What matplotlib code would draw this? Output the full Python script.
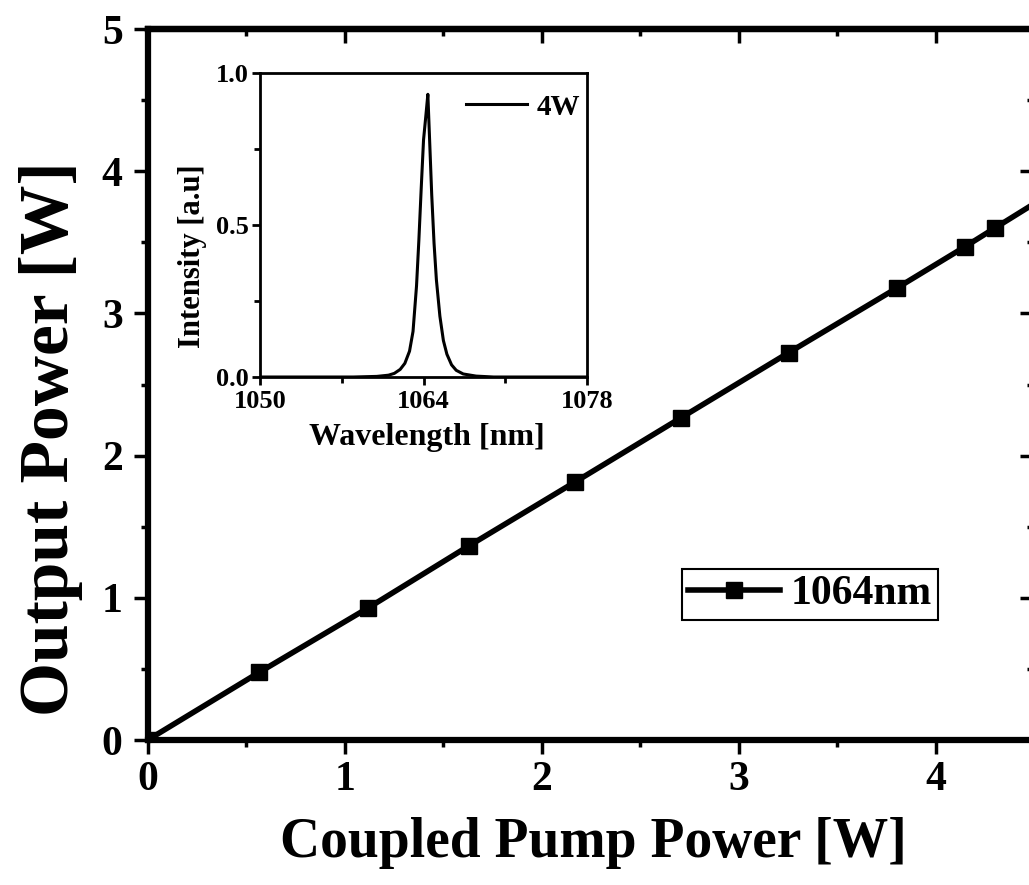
import matplotlib
matplotlib.use("Agg")
import matplotlib.pyplot as plt
from matplotlib.ticker import MultipleLocator

# main curve: output power vs coupled pump power (last point lies past the right edge)
pump_w = [0.0, 0.565, 1.12, 1.63, 2.17, 2.707, 3.255, 3.805, 4.15, 4.30, 4.62]
output_w = [0.0, 0.475, 0.93, 1.365, 1.815, 2.266, 2.725, 3.18, 3.47, 3.60, 3.875]
series_label = "1064nm"

# inset spectrum at 4 W
wavelength_nm = [1050, 1058, 1060, 1061, 1061.5, 1062, 1062.4, 1062.8, 1063.1, 1063.4,
                 1063.6, 1063.8, 1064.0, 1064.2, 1064.37, 1064.5, 1064.7, 1064.9,
                 1065.1, 1065.4, 1065.7, 1066, 1066.4, 1066.8, 1067.4, 1068.5, 1070, 1078]
intensity = [0, 0, 0.002, 0.006, 0.012, 0.025, 0.045, 0.085, 0.15, 0.3,
             0.45, 0.62, 0.78, 0.86, 0.93, 0.8, 0.6, 0.44,
             0.32, 0.2, 0.12, 0.075, 0.04, 0.022, 0.01, 0.003, 0, 0]
inset_label = "4W"

plt.rcParams["font.family"] = ["Liberation Serif", "DejaVu Serif"]
plt.rcParams["font.weight"] = "bold"

fig = plt.figure(figsize=(10.29, 8.85), dpi=100)
ax = fig.add_axes([0.1435, 0.1638, 0.8615, 0.8034])

ax.plot(pump_w, output_w, color="black", lw=4, marker="s", ms=12, label=series_label)
ax.set_xlim(0, 4.5)
ax.set_ylim(0, 5)
ax.xaxis.set_major_locator(MultipleLocator(1))
ax.xaxis.set_minor_locator(MultipleLocator(0.5))
ax.yaxis.set_major_locator(MultipleLocator(1))
ax.yaxis.set_minor_locator(MultipleLocator(0.5))
for s in ax.spines.values():
    s.set_linewidth(4.5)
ax.tick_params(which="both", direction="out", width=2.5, labelsize=30)
ax.tick_params(which="major", length=10)
ax.tick_params(which="minor", length=5)
ax.tick_params(axis="x", pad=5)
ax.tick_params(axis="y", pad=8)

# mirrored ticks pointing into the plot on top and right
top = ax.secondary_xaxis("top")
top.xaxis.set_major_locator(MultipleLocator(1))
top.xaxis.set_minor_locator(MultipleLocator(0.5))
top.tick_params(which="both", direction="in", width=2.5, labeltop=False)
top.tick_params(which="major", length=10)
top.tick_params(which="minor", length=5)
right = ax.secondary_yaxis("right")
right.yaxis.set_major_locator(MultipleLocator(1))
right.yaxis.set_minor_locator(MultipleLocator(0.5))
right.tick_params(which="both", direction="in", width=2.5, labelright=False)
right.tick_params(which="major", length=10)
right.tick_params(which="minor", length=5)
for sec in (top, right):
    for s in sec.spines.values():
        s.set_linewidth(4.5)

ax.set_xlabel("Coupled Pump Power [W]", fontsize=40, fontweight="bold")
ax.xaxis.set_label_coords(0.503, -0.108)
ax.set_ylabel("Output Power [W]", fontsize=50, fontweight="bold")
ax.yaxis.set_label_coords(-0.073, 0.4233)

leg = ax.legend(loc="center", bbox_to_anchor=(0.747, 0.205), fontsize=30,
                handlelength=2.2, handletextpad=0.25, borderpad=0.15,
                fancybox=False, edgecolor="black", framealpha=1)
leg.get_frame().set_linewidth(1.5)

# inset: emission spectrum
ins = fig.add_axes([0.2527, 0.574, 0.3178, 0.3435])
ins.plot(wavelength_nm, intensity, color="black", lw=2.2, label=inset_label)
ins.set_xlim(1050, 1078)
ins.set_ylim(0, 1)
ins.set_xticks([1050, 1064, 1078])
ins.xaxis.set_minor_locator(MultipleLocator(7))
ins.set_yticks([0.0, 0.5, 1.0])
ins.set_yticklabels(["0.0", "0.5", "1.0"])
ins.yaxis.set_minor_locator(MultipleLocator(0.25))
for s in ins.spines.values():
    s.set_linewidth(2)
ins.tick_params(which="both", direction="out", width=2, labelsize=19)
ins.tick_params(axis="x", pad=3)
ins.tick_params(axis="y", pad=2)
ins.tick_params(which="major", length=6)
ins.tick_params(which="minor", length=4)
ins.set_xlabel("Wavelength [nm]", fontsize=23, fontweight="bold")
ins.xaxis.set_label_coords(0.51, -0.151)
ins.set_ylabel("Intensity [a.u]", fontsize=22, fontweight="bold")
ins.yaxis.set_label_coords(-0.162, 0.399)
ins.legend(loc="center", bbox_to_anchor=(0.804, 0.888), fontsize=21, frameon=False,
           handlelength=2.1, handletextpad=0.3, borderpad=0.1)

fig.savefig("out.png", dpi=100)
plt.close(fig)
